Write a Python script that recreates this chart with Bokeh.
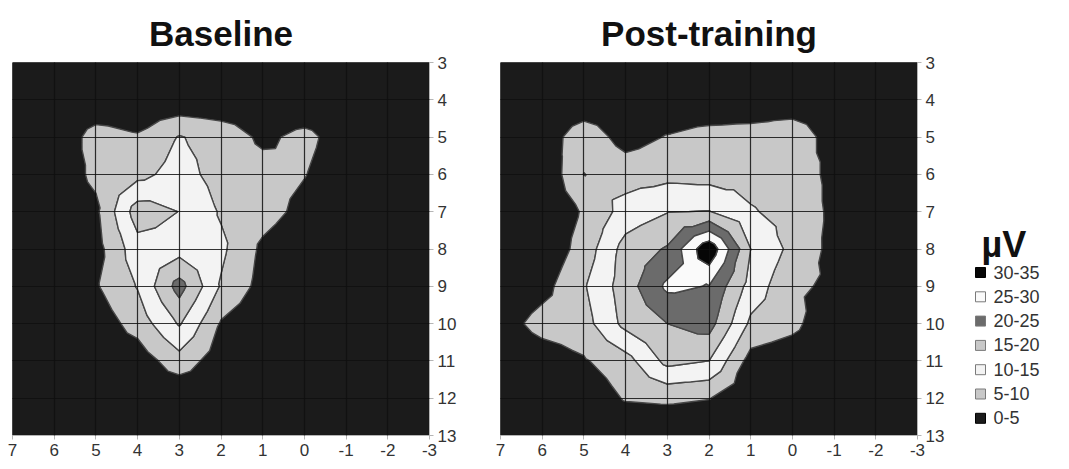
import numpy as np
from contourpy import contour_generator, FillType
from bokeh.plotting import figure
from bokeh.models import Range1d, FixedTicker
from bokeh.core.properties import value
from bokeh.layouts import row
from bokeh.embed import file_html
from bokeh.resources import INLINE

# ---- data -------------------------------------------------------------
x_values = [7, 6, 5, 4, 3, 2, 1, 0, -1, -2, -3]
y_values = [3, 4, 5, 6, 7, 8, 9, 10, 11, 12, 13]

band_levels = [0, 5, 10, 15, 20, 25, 30, 35]
band_labels = ["0-5", "5-10", "10-15", "15-20", "20-25", "25-30", "30-35"]
band_colors = ["#1b1b1b", "#c8c8c8", "#f3f3f3", "#c8c8c8", "#6b6b6b", "#fafafa", "#060606"]
legend_title = "µV"

# µV at each grid node; rows are y = 3..13, columns are x = 7..-3
baseline_uv = [
    [0, 0, 0, 0, 0, 0, 0, 0, 0, 0, 0],
    [0, 0, 1, 1, 1, 1, 1, 1, 1, 0, 0],
    [0, 1, 7, 5.5, 10.3, 8, 4, 6.3, 2.6, 0, 0],
    [0, 2, 6, 8.5, 12, 8, 7, 5.2, 2, 0, 0],
    [0, 2, 4, 17.5, 14.9, 9.5, 7, 3.5, 1, 0, 0],
    [0, 1, 3, 13, 13, 11, 4, 1, 0, 0, 0],
    [0, 1, 4.5, 10.3, 22, 9.5, 3.2, 1, 0, 0, 0],
    [0, 0, 2, 7, 15.5, 4.5, 1, 0, 0, 0, 0],
    [0, 0, 1, 2, 8, 2, 0, 0, 0, 0, 0],
    [0, 0, 0, 0, 0, 0, 0, 0, 0, 0, 0],
    [0, 0, 0, 0, 0, 0, 0, 0, 0, 0, 0],
]

post_training_uv = [
    [0, 0, 0, 0, 0, 0, 0, 0, 0, 0, 0],
    [0, 0, 1, 1, 1, 1, 1, 1, 1, 0, 0],
    [0, 2, 8, 3, 5.3, 6.8, 7.3, 8.7, 2.3, 0, 0],
    [0, 0.5, 10.1, 7.8, 8.5, 8, 8, 7, 4, 0, 0],
    [0, 1, 5.5, 12, 14.8, 15.2, 10.5, 8, 4, 0, 0],
    [0, 1, 7, 17, 20.5, 34, 15, 8.6, 3.5, 0, 0],
    [0, 3.2, 9.5, 17.5, 26, 24.8, 13, 6, 4, 0, 0],
    [2.5, 7, 8, 16.5, 20, 22, 9, 6.5, 0.5, 0, 0],
    [0, 2, 4.5, 8, 16.5, 15, 3, 1.5, 0, 0, 0],
    [0, 0, 1, 5.5, 6, 5.2, 1, 0, 0, 0, 0],
    [0, 0, 0, 0, 0, 0, 0, 0, 0, 0, 0],
]

FONT = "Liberation Sans"
FIG_H = 466
FRAME_TOP = 62
BORDER_BOTTOM = 31


def band_polygons(z):
    X, Y = np.meshgrid(np.array(x_values, float), np.array(y_values, float))
    gen = contour_generator(X, Y, np.array(z, float), name="serial",
                            quad_as_tri=True, fill_type=FillType.OuterOffset)
    out = []
    for i, (lo, hi) in enumerate(zip(band_levels[:-1], band_levels[1:])):
        lo_use = lo - 1 if i == 0 else lo
        points, offsets = gen.filled(lo_use, hi)
        xs, ys = [], []
        for pts, offs in zip(points, offsets):
            rx = [pts[offs[k]:offs[k + 1], 0].tolist() for k in range(len(offs) - 1)]
            ry = [pts[offs[k]:offs[k + 1], 1].tolist() for k in range(len(offs) - 1)]
            xs.append([rx])
            ys.append([ry])
        out.append((xs, ys))
    return out


def make_panel(title, z, width, border_left, border_right):
    p = figure(width=width, height=FIG_H, output_backend="svg", toolbar_location=None,
               x_range=Range1d(7, -3), y_range=Range1d(13, 3),
               y_axis_location="right",
               min_border_left=border_left, min_border_right=border_right,
               min_border_top=FRAME_TOP, min_border_bottom=BORDER_BOTTOM)
    p.title.text = title
    p.title.align = "center"
    p.title.vertical_align = "top"
    p.title.text_font = FONT
    p.title.text_font_size = "35px"
    p.title.text_font_style = "bold"
    p.title.text_color = "#111111"
    p.title.standoff = 16
    p.background_fill_color = band_colors[0]
    p.border_fill_color = "white"
    p.outline_line_color = None

    for i, ((xs, ys), color) in enumerate(zip(band_polygons(z), band_colors)):
        p.multi_polygons(xs=xs, ys=ys, fill_color=color,
                         line_color=band_colors[0] if i == 0 else "#474747",
                         line_width=1.4)

    for ax, ticks in ((p.xaxis, x_values), (p.yaxis, y_values)):
        ax.ticker = FixedTicker(ticks=ticks)
        ax.major_label_overrides = {v: str(v) for v in ticks if v < 0}
        ax.major_label_text_font = FONT
        ax.major_label_text_font_size = "17px"
        ax.major_label_text_color = "#333333"
        ax.axis_line_color = "#b5b5b5"
        ax.major_tick_line_color = "#b5b5b5"
        ax.major_tick_in = 0
        ax.major_tick_out = 4
        ax.minor_tick_line_color = None
        ax.major_label_standoff = 4

    for g, ticks in ((p.xgrid, x_values), (p.ygrid, y_values)):
        g.ticker = FixedTicker(ticks=ticks)
        g.grid_line_color = "#0f0f0f"
        g.grid_line_alpha = 0.85
        g.grid_line_width = 1.2
        g.level = "guide"
    return p


p1 = make_panel("Baseline", baseline_uv, 469, 12, 40)
p2 = make_panel("Post-training", post_training_uv, 488, 31, 40)

# ---- legend panel (its frame is aligned with the panels' frames) -------
p3 = figure(width=100, height=FIG_H, output_backend="svg", toolbar_location=None,
            x_range=Range1d(0, 100), y_range=Range1d(FIG_H - BORDER_BOTTOM, FRAME_TOP),
            x_axis_location=None, y_axis_location=None, min_border=0,
            min_border_top=FRAME_TOP, min_border_bottom=BORDER_BOTTOM)
p3.grid.visible = False
p3.outline_line_color = None
p3.background_fill_color = "white"
p3.border_fill_color = "white"

order = list(range(len(band_labels)))[::-1]          # 30-35 at the top
row_y = [272 + 24.3 * k for k in range(len(order))]
leg_labels = [band_labels[i] if k == 0 else " " + band_labels[i] for k, i in enumerate(order)]
leg_colors = [band_colors[i] for i in order]
leg_lines = ["#000000" if c in ("#060606", "#1b1b1b") else "#7a7a7a" for c in leg_colors]

p3.scatter(x=[23] * len(order), y=row_y, marker="square", size=10,
           fill_color=leg_colors, line_color=leg_lines, line_width=1)
p3.text(x=[36] * len(order), y=row_y, text=leg_labels,
        text_font=value(FONT), text_font_size="18px", text_color="#333333",
        text_baseline="middle", text_align="left")
p3.text(x=[24], y=[244], text=[legend_title], text_font=value(FONT),
        text_font_size="36px", text_font_style="bold", text_color="#111111",
        text_baseline="alphabetic", text_align="left")

layout = row(p1, p2, p3)
open("out.html", "w").write(file_html(layout, INLINE))
